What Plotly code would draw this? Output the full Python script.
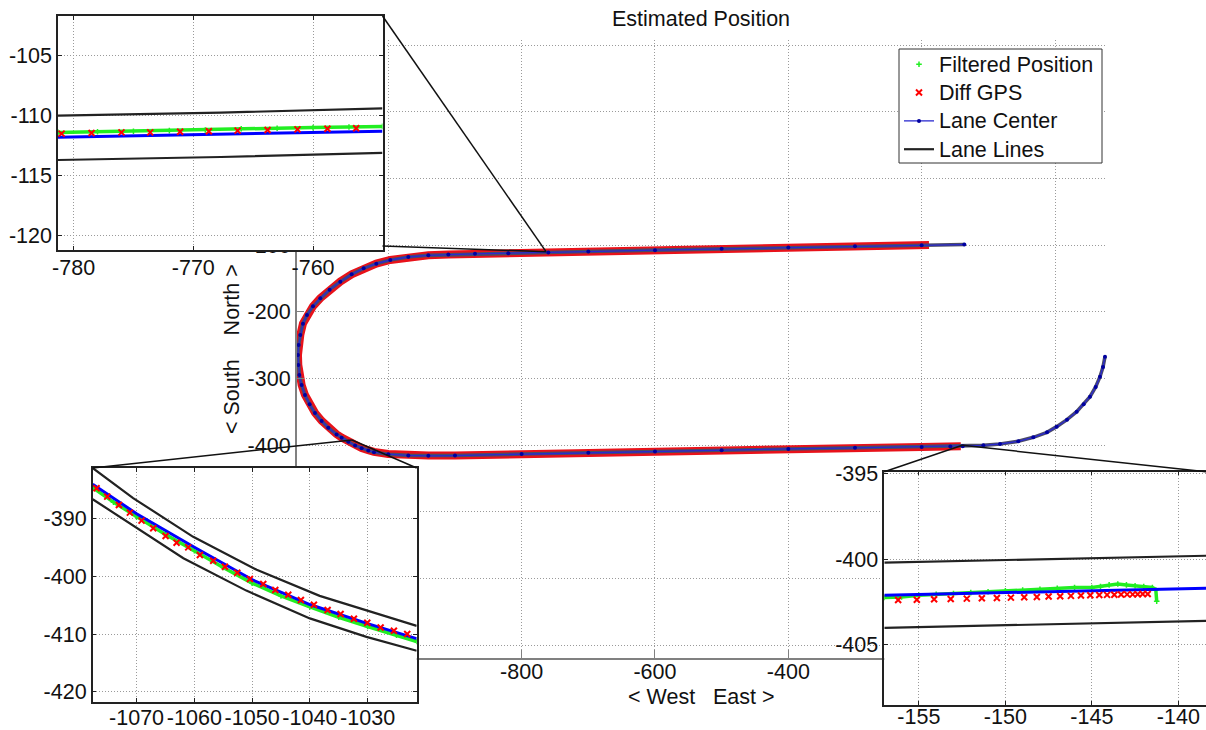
import plotly.graph_objects as go

W, H = 1206, 730
FONT = "Liberation Sans, Arial, sans-serif"
FS = 21.5

# ---------------- data: main view (whole track) ----------------
CENTER_X = [-136, -200, -300, -400, -500, -600, -700, -760, -820, -870, -910, -940, -970,
            -997, -1018, -1037, -1055, -1072, -1088, -1102, -1113, -1122, -1128, -1132,
            -1134.5, -1135.5, -1135, -1133.5, -1130, -1125, -1118, -1110, -1100, -1090,
            -1077.6, -1070, -1060, -1049.8, -1040, -1030, -1021.5, -1000, -970, -940,
            -900, -800, -700, -600, -500, -400, -300, -200, -157, -138.4, -107.5, -82.5,
            -55, -32.5, -12, 2.5, 18, 32.5, 43, 52.5, 61, 67.5, 72, 75]
CENTER_Y = [-99.3, -100.3, -102.0, -103.8, -105.7, -107.7, -109.8, -111.4, -112.3, -113.2,
            -114.2, -115.5, -118.0, -122.5, -128.0, -135.0, -144.0, -155.0, -167.0, -180.0,
            -192.0, -205.0, -218.0, -235.0, -250.0, -265.0, -280.0, -295.0, -310.0, -325.0,
            -339.0, -352.0, -364.0, -374.0, -384.1, -389.2, -395.0, -400.7, -404.9, -408.2,
            -410.8, -413.8, -415.6, -416.2, -415.8, -413.6, -411.7, -409.6, -407.8, -405.9,
            -404.3, -402.9, -402.1, -401.7, -400.5, -398.5, -394.5, -388.5, -381.0, -372.5,
            -362.0, -350.0, -339.0, -327.5, -313.0, -297.5, -283.0, -267.5]

GPS_X = [-189, -300, -400, -500, -600, -700, -760, -820, -870, -910, -940, -970, -997,
         -1018, -1037, -1055, -1072, -1088, -1102, -1113, -1122, -1128, -1132, -1134.5,
         -1135.5, -1135, -1133.5, -1130, -1125, -1118, -1110, -1100, -1090, -1077.6, -1070,
         -1060, -1049.8, -1040, -1030, -1021.5, -1000, -970, -940, -900, -800, -700, -600,
         -500, -400, -300, -200, -141.3]
GPS_Y = [-100.1, -101.9, -103.6, -105.5, -107.5, -109.6, -111.3, -112.2, -113.1, -114.1,
         -115.4, -117.9, -122.4, -127.9, -134.9, -143.9, -154.9, -166.9, -179.9, -191.9,
         -204.9, -217.9, -234.9, -249.9, -264.9, -279.9, -294.9, -309.9, -324.9, -338.8,
         -351.7, -363.7, -373.6, -383.8, -388.9, -394.6, -400.3, -404.5, -407.8, -410.3,
         -413.5, -415.3, -415.9, -415.6, -413.4, -411.5, -409.4, -407.6, -405.8, -404.3,
         -402.9, -402.0]

# ---------------- data: top-left inset ----------------
TL_LANE_X = [-781.3, -767.7, -754.2, None, -781.3, -767.7, -754.2]
TL_LANE_Y = [-110.0, -109.75, -109.4, None, -113.7, -113.45, -113.1]
TL_CENTER_X = [-781.3, -767.7, -754.2]
TL_CENTER_Y = [-111.8, -111.55, -111.3]
TL_FILT_X = [-781.3, -778, -775, -772, -769, -766, -763, -760, -757, -754.2]
TL_FILT_Y = [-111.4, -111.35, -111.3, -111.25, -111.2, -111.1, -111.05, -111.0, -110.95, -110.9]
TL_GPS_X = [-781.0, -778.5, -776.0, -773.6, -771.1, -768.7, -766.3, -763.8, -761.3, -758.8, -756.4]
TL_GPS_Y = [-111.5, -111.45, -111.4, -111.4, -111.35, -111.3, -111.25, -111.2, -111.15, -111.1, -111.05]

# ---------------- data: bottom-left inset ----------------
BL_LANE_X = [-1077.6, -1070.6, -1060.2, -1049.2, -1038.3, -1021.5, None,
             -1077.6, -1070.6, -1061.9, -1051.0, -1040.0, -1030.2, -1021.5]
BL_LANE_Y = [-381.3, -386.5, -393.2, -398.9, -403.4, -408.6, None,
             -386.7, -391.2, -396.9, -402.5, -407.3, -410.5, -412.9]
BL_CENTER_X = [-1077.6, -1070, -1060, -1049.8, -1040, -1030, -1021.5]
BL_CENTER_Y = [-384.1, -389.2, -395.0, -400.7, -404.9, -408.2, -410.8]
BL_FILT_X = [-1077.6, -1074, -1070, -1065, -1060, -1055, -1050, -1045, -1040, -1035, -1030, -1025, -1021.5]
BL_FILT_Y = [-384.7, -387.2, -389.7, -392.8, -395.6, -398.5, -401.2, -403.4, -405.3, -407.1, -408.7, -410.2, -411.3]
BL_GPS_X = [-1076.93, -1075.08, -1073.06, -1071.16, -1069.14, -1067.12, -1064.98, -1063.08,
            -1061.06, -1059.04, -1056.73, -1054.71, -1052.57, -1050.38, -1048.07, -1045.99,
            -1043.74, -1041.55, -1039.30, -1036.93, -1034.68, -1032.37, -1030.06, -1027.75,
            -1025.45, -1023.14]
BL_GPS_Y = [-384.81, -386.25, -387.69, -389.02, -390.40, -391.73, -393.06, -394.21, -395.02,
            -396.34, -397.32, -398.36, -399.40, -400.50, -401.36, -402.40, -403.21, -404.13,
            -404.94, -405.86, -406.55, -407.36, -408.05, -408.86, -409.43, -410.01]

# ---------------- data: bottom-right inset ----------------
BR_LANE_X = [-157.0, -138.4, None, -157.0, -138.4]
BR_LANE_Y = [-400.2, -399.8, None, -404.0, -403.6]
BR_CENTER_X = [-157.0, -138.4]
BR_CENTER_Y = [-402.1, -401.7]
BR_FILT_X = [-157.0, -156.0, -155.0, -154.0, -153.0, -152.0, -151.0, -150.0, -149.0, -148.0,
             -147.0, -146.0, -145.0, -144.5, -144.0, -143.5, -143.0, -142.5, -142.0, -141.5,
             -141.3, -141.25]
BR_FILT_Y = [-402.23, -402.2, -402.1, -402.05, -402.0, -401.95, -401.9, -401.85, -401.8,
             -401.75, -401.7, -401.65, -401.65, -401.6, -401.5, -401.45, -401.5, -401.55,
             -401.6, -401.65, -401.8, -402.45]
BR_GPS_X = [-156.2, -155.12, -154.12, -153.16, -152.23, -151.36, -150.49, -149.68, -148.91,
            -148.18, -147.50, -146.83, -146.21, -145.63, -145.09, -144.57, -144.12, -143.70,
            -143.31, -142.96, -142.64, -142.35, -142.06, -141.77]
BR_GPS_Y = [-402.38, -402.36, -402.34, -402.32, -402.30, -402.28, -402.26, -402.24, -402.22,
            -402.20, -402.18, -402.16, -402.14, -402.12, -402.10, -402.09, -402.08, -402.07,
            -402.06, -402.05, -402.05, -402.04, -402.03, -402.03]

# tick values
MAIN_XTICKS = [-1000, -800, -600, -400, -200, 0]
MAIN_YTICKS = [-700, -600, -500, -400, -300, -200, -100, 0, 100, 200]
TL_XTICKS = [-780, -770, -760]
TL_YTICKS = [-120, -115, -110, -105]
BL_XTICKS = [-1070, -1060, -1050, -1040, -1030]
BL_YTICKS = [-420, -410, -400, -390]
BR_XTICKS = [-155, -150, -145, -140]
BR_YTICKS = [-405, -400, -395]

# ---------------- layout geometry (pixels) ----------------
MAIN_BOX = (296.7, 1107.0, 40.0, 658.0)   # left, right, top, bottom
MAIN_XR = [-1137.4, 78.0]
MAIN_YR = [-719.5, 207.5]
TL_BOX = (58.0, 382.5, 16.0, 250.0)
TL_XR, TL_YR = [-781.3, -754.2], [-121.2, -101.7]
BL_BOX = (92.7, 416.7, 468.0, 701.7)
BL_XR, BL_YR = [-1077.6, -1021.5], [-421.7, -381.3]
BR_BOX = (884.3, 1206.0, 471.7, 705.0)
BR_XR, BR_YR = [-157.0, -138.4], [-408.5, -394.9]
LEGEND_BOX = (899.0, 1102.0, 49.0, 163.0)


def xdom(box):
    return [box[0] / W, min(box[1] / W, 1.0)]


def ydom(box):
    return [1 - box[3] / H, 1 - box[2] / H]


def main_to_px(x, y):
    l, r, t, b = MAIN_BOX
    px = l + (x - MAIN_XR[0]) / (MAIN_XR[1] - MAIN_XR[0]) * (r - l)
    py = b - (y - MAIN_YR[0]) / (MAIN_YR[1] - MAIN_YR[0]) * (b - t)
    return px, py


fig = go.Figure()

BLUE = "#0000ff"
GREEN = "#22ee22"
RED = "#ff0000"


def lg(name):
    # legend row height follows the legend font size; the visible text is a bit larger
    return f'<span style="font-size:{FS}px">{name}</span>'


# ---- main traces ----
fig.add_trace(go.Scatter(x=GPS_X, y=GPS_Y, mode="lines", line=dict(color="#e8121a", width=8),
                         showlegend=False, xaxis="x", yaxis="y", hoverinfo="skip"))
fig.add_trace(go.Scatter(x=CENTER_X, y=CENTER_Y, mode="lines", line=dict(color="#4a4a66", width=3.6),
                         showlegend=False, xaxis="x", yaxis="y", hoverinfo="skip"))
fig.add_trace(go.Scatter(x=CENTER_X, y=CENTER_Y, mode="lines+markers", name=lg("Lane Center"),
                         line=dict(color="#2a2ad0", width=1.3),
                         marker=dict(color="#0000a0", size=4),
                         legendrank=3, xaxis="x", yaxis="y", hoverinfo="skip"))

# ---- inset traces ----
insets = [
    ("x2", "y2", TL_LANE_X, TL_LANE_Y, TL_FILT_X, TL_FILT_Y, TL_CENTER_X, TL_CENTER_Y, TL_GPS_X, TL_GPS_Y),
    ("x3", "y3", BL_LANE_X, BL_LANE_Y, BL_FILT_X, BL_FILT_Y, BL_CENTER_X, BL_CENTER_Y, BL_GPS_X, BL_GPS_Y),
    ("x4", "y4", BR_LANE_X, BR_LANE_Y, BR_FILT_X, BR_FILT_Y, BR_CENTER_X, BR_CENTER_Y, BR_GPS_X, BR_GPS_Y),
]
for i, (xa, ya, lx, ly, fx, fy, cx, cy, gx, gy) in enumerate(insets):
    first = i == 0
    fig.add_trace(go.Scatter(x=lx, y=ly, mode="lines", name=lg("Lane Lines"),
                             line=dict(color="#222222", width=2.2), legendrank=4,
                             showlegend=first, xaxis=xa, yaxis=ya, hoverinfo="skip"))
    fig.add_trace(go.Scatter(x=fx, y=fy, mode="lines", line=dict(color=GREEN, width=3.5),
                             showlegend=False, xaxis=xa, yaxis=ya, hoverinfo="skip"))
    fig.add_trace(go.Scatter(x=fx, y=fy, mode="markers", name=lg("Filtered Position"),
                             marker=dict(color=GREEN, size=4, symbol="cross-thin",
                                         line=dict(color=GREEN, width=1.5)),
                             legendrank=1, showlegend=first, xaxis=xa, yaxis=ya, hoverinfo="skip"))
    fig.add_trace(go.Scatter(x=cx, y=cy, mode="lines", line=dict(color=BLUE, width=3),
                             showlegend=False, xaxis=xa, yaxis=ya, hoverinfo="skip"))
    fig.add_trace(go.Scatter(x=gx, y=gy, mode="markers", name=lg("Diff GPS"),
                             marker=dict(color=RED, size=6, symbol="x-thin",
                                         line=dict(color=RED, width=2)),
                             legendrank=2, showlegend=first, xaxis=xa, yaxis=ya, hoverinfo="skip"))

tickfont = dict(family=FONT, size=FS, color="#111111")
grid = dict(showgrid=True, gridcolor="#9a9a9a", gridwidth=1, griddash="1px,2px", zeroline=False,
            automargin=False)


def labels(vals):
    return [str(v) for v in vals]


layout_axes = dict(
    xaxis=dict(domain=xdom(MAIN_BOX), range=MAIN_XR, anchor="y", tickvals=MAIN_XTICKS,
               ticktext=labels(MAIN_XTICKS), ticks="inside", ticklen=8, tickcolor="#808080",
               showline=True, linecolor="#808080", linewidth=1.5, tickfont=tickfont,
               ticklabelstandoff=-7, **grid),
    yaxis=dict(domain=ydom(MAIN_BOX), range=MAIN_YR, anchor="x", tickvals=MAIN_YTICKS,
               ticktext=labels(MAIN_YTICKS), ticks="inside", ticklen=8, tickcolor="#808080",
               showline=True, linecolor="#808080", linewidth=1.5, tickfont=tickfont, **grid),
)
for n, box, xr, yr, xt, yt, ymirror, xstand in [
    (2, TL_BOX, TL_XR, TL_YR, TL_XTICKS, TL_YTICKS, "ticks", -3),
    (3, BL_BOX, BL_XR, BL_YR, BL_XTICKS, BL_YTICKS, "ticks", -4),
    (4, BR_BOX, BR_XR, BR_YR, BR_XTICKS, BR_YTICKS, False, -9),
]:
    layout_axes[f"xaxis{n}"] = dict(domain=xdom(box), range=xr, anchor=f"y{n}", tickvals=xt,
                                    ticktext=labels(xt), ticks="inside", ticklen=4,
                                    tickcolor="#222222", showline=True, linecolor="#222222",
                                    linewidth=1.5, mirror="ticks", tickfont=tickfont,
                                    ticklabelstandoff=xstand, **grid)
    layout_axes[f"yaxis{n}"] = dict(domain=ydom(box), range=yr, anchor=f"x{n}", tickvals=yt,
                                    ticktext=labels(yt), ticks="inside", ticklen=4,
                                    tickcolor="#222222", showline=True, linecolor="#222222",
                                    linewidth=1.5, mirror=ymirror, tickfont=tickfont, **grid)

# zoom connector lines (from inset corners to the magnified spot of the main axes)
shapes = []
TL_SPOT = main_to_px(-763.4, -110.0)
BL_SPOT = main_to_px(-1054.5, -392.5)
BR_SPOT = main_to_px(-139.0, -400.5)
for (ax, ay), (bx, by) in [
    ((TL_BOX[1], TL_BOX[2]), TL_SPOT), ((TL_BOX[1], 246.0), TL_SPOT),
    ((BL_BOX[0], BL_BOX[2]), BL_SPOT), ((BL_BOX[1], BL_BOX[2]), BL_SPOT),
    ((BR_BOX[0], BR_BOX[2]), BR_SPOT), ((BR_BOX[1], BR_BOX[2]), BR_SPOT),
]:
    shapes.append(dict(type="line", xref="paper", yref="paper", x0=ax / W, y0=1 - ay / H,
                       x1=bx / W, y1=1 - by / H, line=dict(color="#111111", width=1.5)))
# legend frame
shapes.append(dict(type="rect", xref="paper", yref="paper", layer="above",
                   x0=LEGEND_BOX[0] / W, x1=LEGEND_BOX[1] / W,
                   y0=1 - LEGEND_BOX[3] / H, y1=1 - LEGEND_BOX[2] / H,
                   fillcolor="white", line=dict(color="#333333", width=1)))

annotations = [
    dict(text="Estimated Position", x=700.5 / W, y=1 - 18.5 / H, xref="paper", yref="paper",
         showarrow=False, xanchor="center", yanchor="middle",
         font=dict(family=FONT, size=FS, color="#111111")),
    dict(text="< West\u00a0\u00a0\u00a0East >", x=701 / W, y=1 - 697 / H, xref="paper", yref="paper",
         showarrow=False, xanchor="center", yanchor="middle",
         font=dict(family=FONT, size=FS, color="#111111")),
    dict(text="< South\u00a0\u00a0\u00a0\u00a0North >", x=232 / W, y=1 - 349 / H, xref="paper",
         yref="paper", showarrow=False, xanchor="center", yanchor="middle", textangle=-90,
         font=dict(family=FONT, size=FS, color="#111111")),
]

fig.update_layout(
    width=W, height=H, autosize=False,
    margin=dict(l=0, r=0, t=0, b=0, pad=0, autoexpand=False),
    paper_bgcolor="white", plot_bgcolor="white",
    font=dict(family=FONT, size=FS, color="#111111"),
    showlegend=True,
    legend=dict(x=LEGEND_BOX[0] / W, y=1 - (LEGEND_BOX[2] - 4) / H, xanchor="left", yanchor="top",
                bgcolor="rgba(0,0,0,0)", borderwidth=0,
                font=dict(family=FONT, size=19.5, color="#111111"),
                tracegroupgap=0, itemwidth=30),
    shapes=shapes,
    annotations=annotations,
    **layout_axes,
)

fig.write_html("out.html", config={"displayModeBar": False},
               post_script="document.body.style.margin='0px';")
